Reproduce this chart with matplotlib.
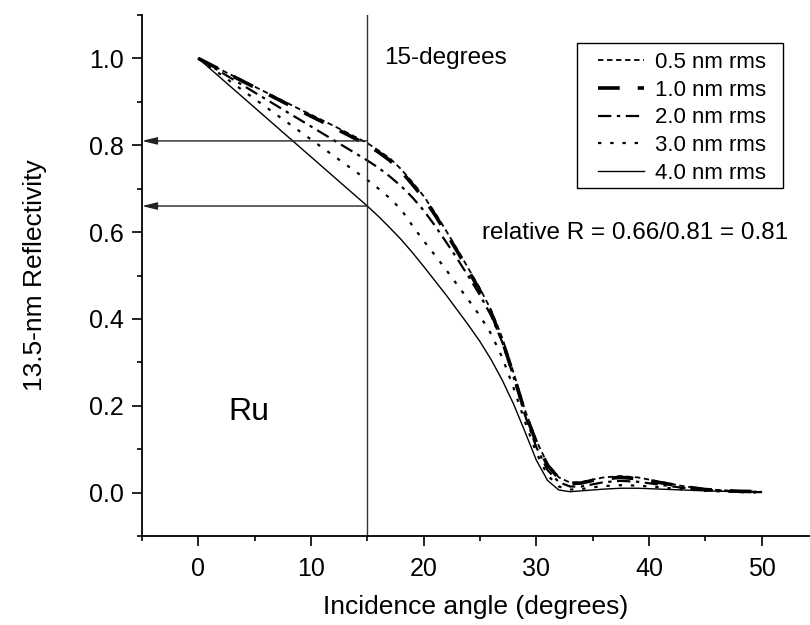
import numpy as np
import matplotlib
matplotlib.use('Agg')
import matplotlib.pyplot as plt
from matplotlib.patches import Rectangle

plt.rcParams['font.family'] = ['Liberation Sans', 'DejaVu Sans']

# incidence angle (degrees) sampled along the curves
angle = [0, 3, 6, 9, 12, 15, 16, 17, 18, 19, 20, 21, 22, 23, 24, 25, 26, 27, 28,
         29, 30, 31, 32, 33, 34, 35, 36, 37.5, 39, 41, 43, 45, 48, 50]

r_05 = [1.0, 0.961, 0.922, 0.883, 0.845, 0.805, 0.788, 0.77, 0.745, 0.715, 0.683, 0.645,
        0.603, 0.56, 0.515, 0.47, 0.42, 0.355, 0.275, 0.19, 0.12, 0.066, 0.035, 0.023,
        0.024, 0.03, 0.035, 0.038, 0.035, 0.025, 0.015, 0.008, 0.003, 0.002]
r_10 = [1.0, 0.960, 0.920, 0.880, 0.841, 0.801, 0.784, 0.765, 0.740, 0.710, 0.678, 0.640,
        0.598, 0.555, 0.510, 0.465, 0.414, 0.349, 0.269, 0.185, 0.116, 0.063, 0.033, 0.021,
        0.022, 0.028, 0.032, 0.035, 0.032, 0.023, 0.014, 0.007, 0.003, 0.002]
r_20 = [1.0, 0.953, 0.906, 0.859, 0.812, 0.765, 0.748, 0.728, 0.706, 0.68, 0.65, 0.615,
        0.577, 0.538, 0.497, 0.455, 0.407, 0.345, 0.265, 0.178, 0.105, 0.052, 0.024, 0.014,
        0.014, 0.019, 0.024, 0.027, 0.025, 0.018, 0.011, 0.006, 0.002, 0.001]
r_30 = [1.0, 0.944, 0.888, 0.832, 0.776, 0.72, 0.70, 0.678, 0.652, 0.615, 0.58, 0.547,
        0.513, 0.478, 0.443, 0.407, 0.365, 0.31, 0.24, 0.163, 0.092, 0.04, 0.014, 0.007,
        0.008, 0.012, 0.015, 0.017, 0.016, 0.012, 0.008, 0.004, 0.001, 0.0]
r_40 = [1.0, 0.932, 0.864, 0.796, 0.728, 0.66, 0.636, 0.61, 0.583, 0.553, 0.521, 0.488,
        0.455, 0.42, 0.385, 0.348, 0.306, 0.258, 0.203, 0.14, 0.075, 0.028, 0.006, 0.002,
        0.004, 0.006, 0.008, 0.01, 0.01, 0.008, 0.006, 0.004, 0.002, 0.001]

labels = ['0.5 nm rms', '1.0 nm rms', '2.0 nm rms', '3.0 nm rms', '4.0 nm rms']
r_at_15 = [0.81, 0.66]

fig = plt.figure(figsize=(8.1, 6.25), dpi=100)
ax = fig.add_axes([142/810, 89/625, 668/810, 521/625])

ax.plot(angle, r_05, color='k', lw=1.3, dashes=(3, 2), label=labels[0])
ax.plot(angle, r_10, color='k', lw=2.6, dashes=(6, 5), label=labels[1])
ax.plot(angle, r_20, color='k', lw=1.6, dashes=(6, 2.5, 1.5, 2.5), label=labels[2])
ax.plot(angle, r_30, color='k', lw=1.6, dashes=(1.5, 4), label=labels[3])
ax.plot(angle, r_40, color='k', lw=1.0, label=labels[4])

ax.set_xlim(-5, 54.3)
ax.set_ylim(-0.1, 1.1)

# 15 degree marker and arrows to the axis
ax.axvline(15, color='#333333', lw=1.0)
for r in r_at_15:
    ax.annotate('', xy=(-5, r), xytext=(15, r),
                arrowprops=dict(arrowstyle='-|>,head_length=0.9,head_width=0.22',
                                color='#222222', lw=1.0, shrinkA=0, shrinkB=0))

ax.text(16.5, 1.0, '15-degrees', fontsize=17.5, va='center', ha='left')
ax.text(25.2, 0.598, 'relative R = 0.66/0.81 = 0.81', fontsize=17.5, va='center', ha='left')
ax.text(2.7, 0.185, 'Ru', fontsize=23, va='center', ha='left')

ax.spines['top'].set_visible(False)
ax.spines['right'].set_visible(False)
ax.spines['left'].set_linewidth(1.3)
ax.spines['bottom'].set_linewidth(1.3)

ax.set_xticks([0, 10, 20, 30, 40, 50])
ax.set_xticks(np.arange(-5, 55, 5), minor=True)
ax.set_yticks([0.0, 0.2, 0.4, 0.6, 0.8, 1.0])
ax.set_yticks(np.arange(-0.1, 1.11, 0.1), minor=True)
ax.yaxis.set_major_formatter(matplotlib.ticker.FormatStrFormatter('%.1f'))
ax.tick_params(which='major', direction='out', length=7, width=1.2, labelsize=18)
ax.tick_params(which='minor', direction='out', length=3.5, width=1.2)
ax.tick_params(axis='y', pad=6)
ax.tick_params(axis='x', pad=8)

ax.set_xlabel('Incidence angle (degrees)', fontsize=19, labelpad=10)
ax.set_ylabel('13.5-nm Reflectivity', fontsize=19, labelpad=30)

# legend without its own frame; the box is drawn wider than the content
leg = ax.legend(loc='upper right', bbox_to_anchor=(0.935, 0.929), borderaxespad=0,
                fontsize=16, frameon=False, handlelength=2.1,
                handletextpad=0.5, labelspacing=0.3, borderpad=0)
ax.add_patch(Rectangle((0.651, 0.668), 0.309, 0.278, transform=ax.transAxes,
                       facecolor='white', edgecolor='k', lw=1.0, zorder=4,
                       clip_on=False))

fig.savefig('out.png', dpi=100)
